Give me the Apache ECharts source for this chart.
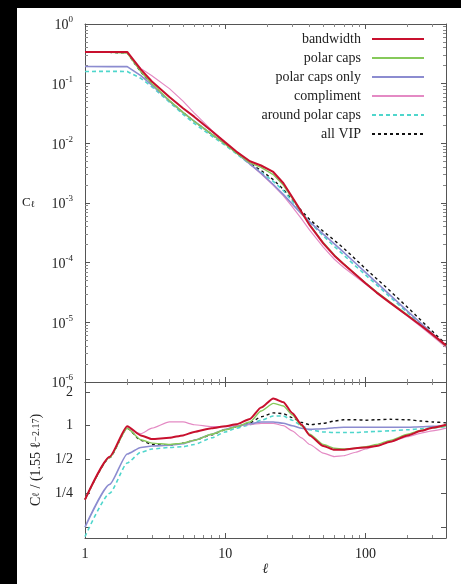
<!DOCTYPE html>
<html><head><meta charset="utf-8">
<script src="https://cdn.jsdelivr.net/npm/echarts@6/dist/echarts.min.js"></script>
<style>
html,body{margin:0;padding:0;background:#000;width:461px;height:584px;overflow:hidden}
#c{position:absolute;left:17px;top:8px;width:444px;height:576px;background:#fff}
</style>
</head><body><div id="c"></div>
<script>
// multipole moments
const ell = [1,1.5,2,2.5,3,4,5,6,8,10,12,15,18,22,26,30,35,40,50,60,70,85,100,120,150,200,250,300,375];

const seriesNames = ['bandwidth','polar caps','polar caps only','compliment','around polar caps','all VIP'];

// C_ell (top panel)
const clBandwidth = [0.341,0.341,0.341,0.174,0.1086,0.0597,0.0387,0.0280,0.01615,0.01038,0.00727,0.00500,0.00425,0.00331,0.00214,0.00126,0.000706,0.000425,0.000211,0.000131,9.38e-5,6.35e-5,4.53e-5,3.15e-5,2.12e-5,1.29e-5,8.75e-6,6.28e-6,4.11e-6];
const clPolarCaps = [0.341,0.334,0.327,0.159,0.100,0.0520,0.0330,0.0235,0.01428,0.00964,0.00692,0.00470,0.00396,0.00299,0.00198,0.00121,0.000692,0.000435,0.000217,0.000135,9.54e-5,6.35e-5,4.60e-5,3.24e-5,2.18e-5,1.32e-5,8.85e-6,6.28e-6,4.03e-6];
const clPolarCapsOnly = [0.194,0.193,0.193,0.136,0.0943,0.0513,0.0326,0.0235,0.01428,0.00975,0.00699,0.00452,0.00316,0.00204,0.001384,0.000966,0.000657,0.000482,0.000300,0.000206,0.0001492,9.78e-5,6.87e-5,4.63e-5,2.85e-5,1.526e-5,9.53e-6,6.47e-6,4.03e-6];
const clCompliment = [0.341,0.341,0.327,0.180,0.136,0.0826,0.0510,0.0324,0.01666,0.01027,0.00706,0.00444,0.00308,0.00198,0.001318,0.000869,0.000540,0.000352,0.000182,0.000114,8.31e-5,5.85e-5,4.39e-5,3.15e-5,2.12e-5,1.258e-5,8.36e-6,5.89e-6,3.83e-6];
const clAroundPolarCaps = [0.160,0.161,0.160,0.123,0.0886,0.0490,0.0307,0.0216,0.01326,0.00922,0.00671,0.00444,0.00328,0.00231,0.001608,0.001082,0.000692,0.000477,0.000281,0.000187,0.0001338,8.77e-5,6.23e-5,4.25e-5,2.65e-5,1.447e-5,9.14e-6,6.28e-6,3.95e-6];
const clAllVIP = [0.341,0.334,0.327,0.157,0.0972,0.0513,0.0330,0.0235,0.01411,0.00964,0.00692,0.00461,0.00352,0.00246,0.001687,0.001140,0.000740,0.000528,0.000335,0.000237,0.0001738,0.0001139,7.93e-5,5.39e-5,3.35e-5,1.777e-5,1.069e-5,7.06e-6,4.27e-6];

// C_ell / (1.55 ell^-2.17) (bottom panel)
const ratioBandwidth = [0.22,0.53,0.99,0.82,0.76,0.78,0.82,0.88,0.95,0.99,1.03,1.15,1.45,1.75,1.62,1.30,1.02,0.82,0.66,0.61,0.61,0.63,0.64,0.66,0.72,0.82,0.90,0.96,1.02];
const ratioPolarCaps = [0.22,0.52,0.95,0.75,0.70,0.68,0.70,0.74,0.84,0.92,0.98,1.08,1.35,1.58,1.50,1.25,1.00,0.84,0.68,0.63,0.62,0.63,0.65,0.68,0.74,0.84,0.91,0.96,1.00];
const ratioPolarCapsOnly = [0.125,0.30,0.56,0.64,0.66,0.67,0.69,0.74,0.84,0.93,0.99,1.04,1.08,1.08,1.05,1.00,0.95,0.93,0.94,0.96,0.97,0.97,0.97,0.97,0.97,0.97,0.98,0.99,1.00];
const ratioCompliment = [0.22,0.53,0.95,0.85,0.95,1.08,1.08,1.02,0.98,0.98,1.00,1.02,1.05,1.05,1.00,0.90,0.78,0.68,0.57,0.53,0.54,0.58,0.62,0.66,0.72,0.80,0.86,0.90,0.95];
const ratioAroundPolarCaps = [0.103,0.25,0.465,0.58,0.62,0.64,0.65,0.68,0.78,0.88,0.95,1.02,1.12,1.22,1.22,1.12,1.00,0.92,0.88,0.87,0.87,0.87,0.88,0.89,0.90,0.92,0.94,0.96,0.98];
const ratioAllVIP = [0.22,0.52,0.95,0.74,0.68,0.67,0.70,0.74,0.83,0.92,0.98,1.06,1.20,1.30,1.28,1.18,1.07,1.02,1.05,1.10,1.13,1.13,1.12,1.13,1.14,1.13,1.10,1.08,1.06];

// tick labels (keyed by exponent for the ratio axis)
const xTickLabels = {1:'1',10:'10',100:'100'};
const ratioTickLabels = {'1':'2','0':'1','-1':'1/2','-2':'1/4'};

const clData = [clBandwidth, clPolarCaps, clPolarCapsOnly, clCompliment, clAroundPolarCaps, clAllVIP];
const ratioData = [ratioBandwidth, ratioPolarCaps, ratioPolarCapsOnly, ratioCompliment, ratioAroundPolarCaps, ratioAllVIP];

const lineStyles = [
  {color:'#c8102e', width:2, type:'solid'},
  {color:'#86c95a', width:1.4, type:'solid'},
  {color:'#8c8cd0', width:1.6, type:'solid'},
  {color:'#e48ac4', width:1.2, type:'solid'},
  {color:'#4fd6cc', width:1.6, type:[4,3]},
  {color:'#111111', width:1.4, type:[3,3]}
];

const FONT = 'Liberation Serif';
const axisCol = '#555';
const LBL = 14;

function xAx(gridIndex, pos, showLabels){
  return {
    type:'log', logBase:10, min:1, max:375, gridIndex, position:pos,
    axisLine:{show:true, onZero:false, lineStyle:{color:axisCol, width:1}},
    axisTick:{show:true, inside:true, length:5, lineStyle:{color:axisCol}},
    minorTick:{show:true, splitNumber:9, length:3, lineStyle:{color:'#888'}},
    splitLine:{show:false},
    axisLabel:{show:showLabels, margin:9, color:'#222', fontFamily:FONT, fontSize:LBL,
      showMinLabel:true, showMaxLabel:false,
      formatter:v=>{ const k=Math.round(v); return xTickLabels[k] && Math.abs(v-k)<1e-6 ? xTickLabels[k] : ''; }}
  };
}
function yTopAx(pos, showLabels){
  return {
    type:'log', logBase:10, min:1e-6, max:1, gridIndex:0, position:pos,
    axisLine:{show:true, onZero:false, lineStyle:{color:axisCol, width:1}},
    axisTick:{show:true, inside:true, length:5, lineStyle:{color:axisCol}},
    minorTick:{show:true, splitNumber:9, length:3, lineStyle:{color:'#888'}},
    splitLine:{show:false},
    axisLabel:{show:showLabels, margin:12, color:'#222', fontFamily:FONT,
      formatter:v=>{ const e=Math.log10(v); const r=Math.round(e); if(Math.abs(e-r)>1e-6) return ''; return '{b|10}{s|'+r+'}'; },
      rich:{b:{fontSize:LBL, fontFamily:FONT, color:'#222', lineHeight:17, verticalAlign:'bottom'},
            s:{fontSize:9, fontFamily:FONT, color:'#222', lineHeight:17, verticalAlign:'top', padding:[0,0,6,0]}}}
  };
}
function yBotAx(pos, showLabels){
  return {
    type:'log', logBase:2, min:0.1, max:2.45, gridIndex:1, position:pos,
    axisLine:{show:true, onZero:false, lineStyle:{color:axisCol, width:1}},
    axisTick:{show:true, inside:true, length:5, lineStyle:{color:axisCol}},
    splitLine:{show:false},
    axisLabel:{show:showLabels, margin:12, color:'#222', fontFamily:FONT, fontSize:LBL,
      showMinLabel:false, showMaxLabel:false,
      formatter:v=>{ const e=Math.log2(v); const r=Math.round(e); if(Math.abs(e-r)>1e-6) return ''; return ratioTickLabels[String(r)]||''; }}
  };
}

const series = [];
seriesNames.forEach((n,i)=>{
  series.push({name:n, type:'line', xAxisIndex:0, yAxisIndex:0, symbol:'none', smooth:false,
    lineStyle:lineStyles[i], itemStyle:{color:lineStyles[i].color}, z:10-i,
    data: ell.map((x,j)=>[x, clData[i][j]])});
  series.push({name:n, type:'line', xAxisIndex:2, yAxisIndex:2, symbol:'none', smooth:0.2, smoothMonotone:'x',
    lineStyle:lineStyles[i], itemStyle:{color:lineStyles[i].color}, z:10-i,
    data: ell.map((x,j)=>[x, ratioData[i][j]])});
});

const chart = echarts.init(document.getElementById('c'), null, {renderer:'canvas'});
chart.setOption({
  backgroundColor:'#fff',
  animation:false,
  textStyle:{fontFamily:FONT},
  grid:[
    {left:68, right:15, top:16, height:358},
    {left:68, right:15, top:374, height:156}
  ],
  legend:{
    data:seriesNames, orient:'vertical', right:36, top:24, align:'right', padding:0,
    itemWidth:52, itemHeight:14, itemGap:5,
    itemStyle:{opacity:0},
    textStyle:{fontFamily:FONT, fontSize:14, color:'#222', padding:[0,6,0,0], lineHeight:14}
  },
  xAxis:[ xAx(0,'bottom',false), xAx(0,'top',false), {...xAx(1,'bottom',true),
      name:'ℓ', nameLocation:'middle', nameGap:24,
      nameTextStyle:{fontFamily:FONT, fontStyle:'italic', fontSize:14, color:'#222'}},
    xAx(1,'top',false) ],
  yAxis:[ {...yTopAx('left',true), name:'{t|C}{sub|ℓ}', nameLocation:'middle', nameGap:50, nameRotate:0,
      nameTextStyle:{rich:{t:{fontFamily:FONT, fontSize:13, color:'#222'}, sub:{fontFamily:FONT, fontSize:9, color:'#222', verticalAlign:'bottom', padding:[4,0,0,0]}}}},
    yTopAx('right',false),
    {...yBotAx('left',true), name:'{t|C}{sub|ℓ}{t| / (1.55 ℓ}{sup|−2.17}{t|)}', nameLocation:'middle', nameGap:42, nameRotate:90,
      nameTextStyle:{rich:{t:{fontFamily:FONT, fontSize:14, color:'#222'}, sub:{fontFamily:FONT, fontSize:10, color:'#222'}, sup:{fontFamily:FONT, fontSize:10, color:'#222'}}}},
    yBotAx('right',false) ],
  series
});
</script>
</body></html>
